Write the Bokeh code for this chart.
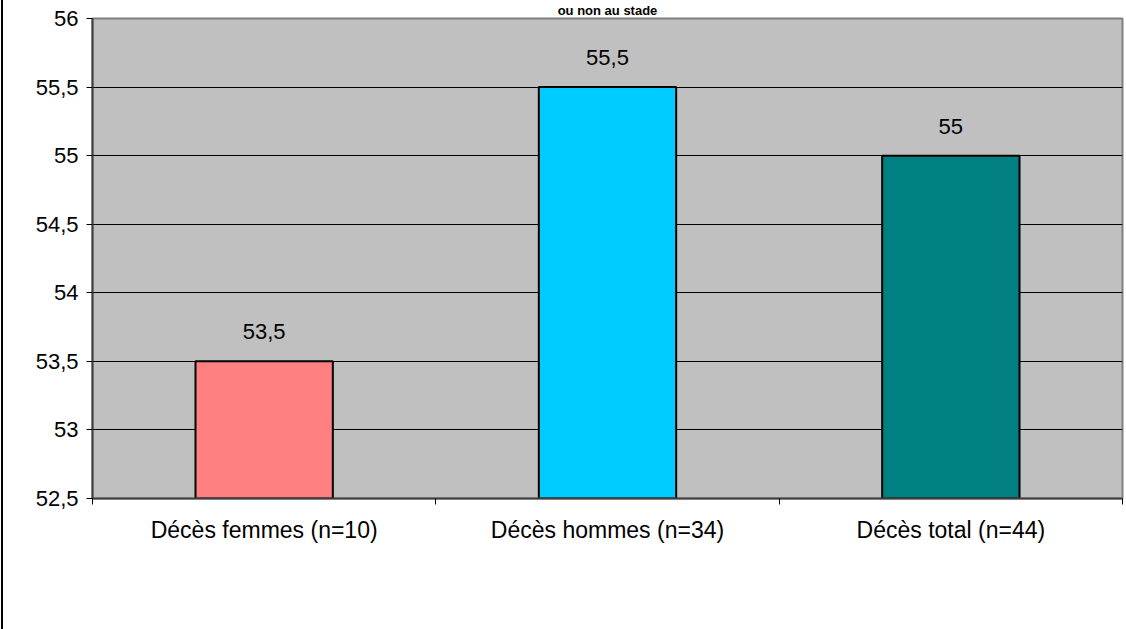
import numpy as np
from bokeh.plotting import figure
from bokeh.models import ColumnDataSource, FixedTicker, Range1d, Div
from bokeh.layouts import row
from bokeh.core.properties import value
from bokeh.embed import file_html
from bokeh.resources import INLINE

categories = ["Décès femmes (n=10)", "Décès hommes (n=34)", "Décès total (n=44)"]
ages = [53.5, 55.5, 55.0]
age_labels = ["53,5", "55,5", "55"]
colors = ["#FF8080", "#00CCFF", "#008080"]
y_ticks = [52.5, 53.0, 53.5, 54.0, 54.5, 55.0, 55.5, 56.0]
y_tick_labels = ["52,5", "53", "53,5", "54", "54,5", "55", "55,5", "56"]
title_fragment = "ou non au stade"

FONT = "Liberation Sans"
x_pos = [i + 0.5 for i in range(len(categories))]
y_start, y_end = y_ticks[0], y_ticks[-1]

src = ColumnDataSource(dict(x=x_pos, top=ages, lab=age_labels, color=colors))

p = figure(width=1123, height=629, output_backend="svg", toolbar_location=None,
           x_range=Range1d(0, len(categories)), y_range=Range1d(y_start, y_end),
           min_border_left=89, min_border_right=4, min_border_top=0, min_border_bottom=131,
           title=title_fragment)
p.title.align = "center"
p.title.offset = -17
p.title.standoff = 1
p.title.text_font = FONT
p.title.text_font_size = "13px"
p.title.text_font_style = "bold"
p.title.text_color = "black"
p.background_fill_color = "#C0C0C0"
p.border_fill_color = "white"
p.outline_line_color = "#808080"
p.outline_line_width = 2

p.vbar(x="x", top="top", bottom=y_start, width=0.4, fill_color="color",
       line_color="black", line_width=2, source=src)
p.text(x="x", y="top", text="lab", source=src, text_align="center", text_baseline="bottom",
       y_offset=-22, text_font=value(FONT), text_font_size="22px", text_color="black")

# y axis
p.yaxis.ticker = FixedTicker(ticks=y_ticks)
p.yaxis.major_label_overrides = {t: l for t, l in zip(y_ticks, y_tick_labels)}
p.yaxis.major_label_text_font = FONT
p.yaxis.major_label_text_font_size = "22px"
p.yaxis.major_label_text_color = "black"
p.yaxis.major_tick_in = 0
p.yaxis.major_tick_out = 6
p.yaxis.minor_tick_line_color = None
p.yaxis.axis_line_color = "#404040"
p.yaxis.axis_line_width = 2
p.yaxis.major_label_standoff = 8
p.ygrid.grid_line_color = "black"
p.ygrid.grid_line_width = 1
p.ygrid.ticker = FixedTicker(ticks=y_ticks)

# x axis: labels at centres, ticks at boundaries
p.xaxis.ticker = FixedTicker(ticks=x_pos, minor_ticks=list(range(len(categories) + 1)))
p.xaxis.major_label_overrides = {x: c for x, c in zip(x_pos, categories)}
p.xaxis.major_label_text_font = FONT
p.xaxis.major_label_text_font_size = "23px"
p.xaxis.major_label_text_color = "black"
p.xaxis.major_tick_line_color = None
p.xaxis.minor_tick_in = 0
p.xaxis.minor_tick_out = 6
p.xaxis.minor_tick_line_color = "black"
p.xaxis.axis_line_color = "#404040"
p.xaxis.axis_line_width = 2
p.xaxis.major_label_standoff = 12
p.xgrid.grid_line_color = None

# chart area border on the left
spacer = Div(width=1, height=629, margin=0, styles={"background-color": "white"})
border = Div(width=2, height=629, margin=0, styles={"background-color": "black"})
layout = row(spacer, border, p, spacing=0, margin=0)

open("out.html", "w").write(file_html(layout, INLINE))
